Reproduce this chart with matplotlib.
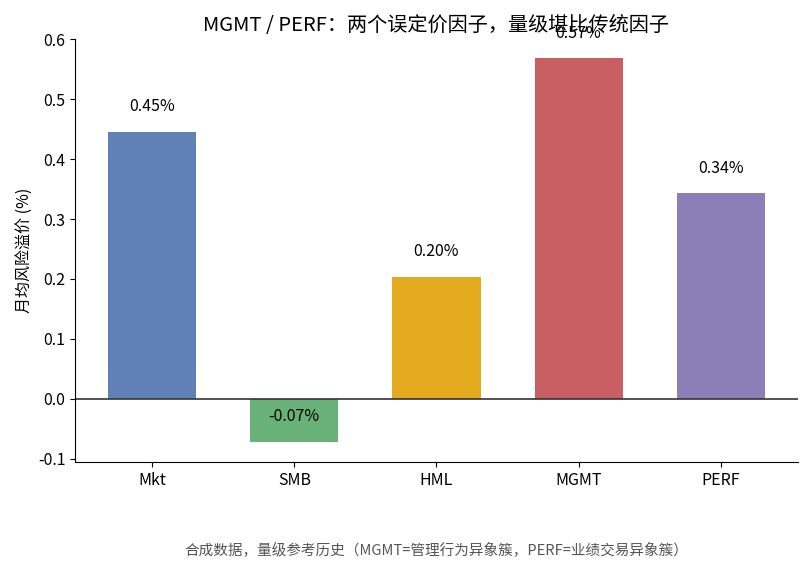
import matplotlib.pyplot as plt

plt.rcParams['font.family'] = ['Noto Sans CJK SC', 'DejaVu Sans']
plt.rcParams['axes.unicode_minus'] = False

# Data
factors = ["Mkt", "SMB", "HML", "MGMT", "PERF"]
premium = [0.445, -0.072, 0.203, 0.568, 0.343]
colors = ["#5f81b7", "#68b277", "#e3aa1d", "#c95f63", "#8c7fb8"]

fig = plt.figure(figsize=(8.09, 5.68), dpi=100)
ax = fig.add_axes([0.093, 0.187, 0.893, 0.744])

x = range(len(factors))
ax.bar(x, premium, width=0.62, color=colors)
ax.axhline(0, color="#333333", linewidth=1.2)

for i, v in enumerate(premium):
    ax.text(i, v + 0.042, f"{v:.2f}%", ha="center", va="center", fontsize=11.5)

ax.set_xticks(list(x))
ax.set_xticklabels(factors, fontsize=11.5)
ax.set_ylim(-0.105, 0.6)
ax.set_yticks([-0.1, 0.0, 0.1, 0.2, 0.3, 0.4, 0.5, 0.6])
ax.set_yticklabels(["-0.1", "0.0", "0.1", "0.2", "0.3", "0.4", "0.5", "0.6"], fontsize=11.5)
ax.set_ylabel("月均风险溢价 (%)", fontsize=11.5)
ax.set_title("MGMT / PERF：两个误定价因子，量级堪比传统因子", fontsize=14.5)

ax.spines["top"].set_visible(False)
ax.spines["right"].set_visible(False)

fig.text(436 / 809, 1 - 550 / 568, "合成数据，量级参考历史（MGMT=管理行为异象簇，PERF=业绩交易异象簇）",
         ha="center", va="center", fontsize=10.5, color="#555555")

plt.savefig("out.png", dpi=100)
